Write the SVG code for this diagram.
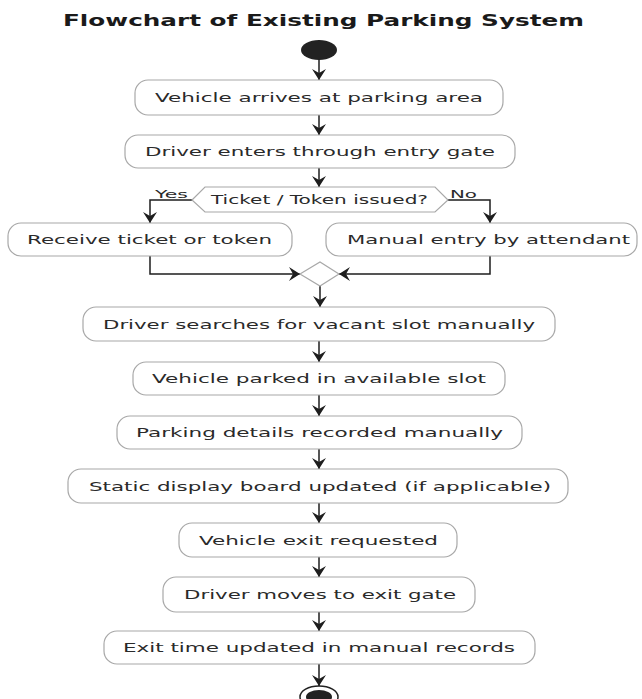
<svg xmlns="http://www.w3.org/2000/svg" width="642" height="699" viewBox="0 0 642 699">
<defs>
<style>
.box{fill:#ffffff;stroke:#a8a8a8;stroke-width:1.2}
.t{font-family:"DejaVu Sans","Liberation Sans",sans-serif;font-size:13px;fill:#2a2a2a}
.lbl{font-family:"DejaVu Sans","Liberation Sans",sans-serif;font-size:11px;fill:#2a2a2a}
.title{font-family:"DejaVu Sans","Liberation Sans",sans-serif;font-size:15px;font-weight:bold;fill:#1a1a1a}
.c{fill:none;stroke:#1e1e1e;stroke-width:1.5}
</style>
<marker id="ah" markerWidth="14" markerHeight="14" refX="11" refY="7" orient="auto" markerUnits="userSpaceOnUse">
<path d="M0,0 L11,7 L0,14 L4,7 Z" fill="#1e1e1e"/>
</marker>
</defs>
<rect width="642" height="699" fill="#ffffff"/>
<text class="title" x="63" y="26" textLength="521" lengthAdjust="spacingAndGlyphs">Flowchart of Existing Parking System</text>

<g id="start"><ellipse cx="319" cy="50" rx="18" ry="10" fill="#222222"/></g>

<g id="connectors">
<path class="c" d="M319,60 V80" marker-end="url(#ah)"/>
<path class="c" d="M319,115 V135" marker-end="url(#ah)"/>
<path class="c" d="M319,168 V187" marker-end="url(#ah)"/>
<path class="c" d="M192,200 H150 V223" marker-end="url(#ah)"/>
<path class="c" d="M448,200 H490 V223" marker-end="url(#ah)"/>
<path class="c" d="M150,256 V274 H300" marker-end="url(#ah)"/>
<path class="c" d="M490,256 V274 H339" marker-end="url(#ah)"/>
<path class="c" d="M320,286 V307" marker-end="url(#ah)"/>
<path class="c" d="M319,341 V362" marker-end="url(#ah)"/>
<path class="c" d="M319,395 V416" marker-end="url(#ah)"/>
<path class="c" d="M319,449 V469" marker-end="url(#ah)"/>
<path class="c" d="M319,503 V523" marker-end="url(#ah)"/>
<path class="c" d="M319,557 V577" marker-end="url(#ah)"/>
<path class="c" d="M319,612 V631" marker-end="url(#ah)"/>
<path class="c" d="M319,664 V686" marker-end="url(#ah)"/>
<text class="lbl" x="155" y="198" textLength="33" lengthAdjust="spacingAndGlyphs">Yes</text>
<text class="lbl" x="450" y="198" textLength="27" lengthAdjust="spacingAndGlyphs">No</text>
</g>

<g id="n1"><rect class="box" x="135" y="80" width="368" height="35" rx="13"/>
<text class="t" x="155" y="102" textLength="328" lengthAdjust="spacingAndGlyphs">Vehicle arrives at parking area</text></g>

<g id="n2"><rect class="box" x="125" y="135" width="390" height="33" rx="13"/>
<text class="t" x="145" y="156" textLength="350" lengthAdjust="spacingAndGlyphs">Driver enters through entry gate</text></g>

<g id="decision"><polygon class="box" points="192,200 205,187 435,187 448,200 435,212 205,212"/>
<text class="t" x="211" y="204" textLength="217" lengthAdjust="spacingAndGlyphs">Ticket / Token issued?</text></g>

<g id="yes"><rect class="box" x="8" y="223" width="284" height="33" rx="13"/>
<text class="t" x="27" y="244" textLength="245" lengthAdjust="spacingAndGlyphs">Receive ticket or token</text></g>

<g id="no"><rect class="box" x="326" y="223" width="311" height="33" rx="13"/>
<text class="t" x="347" y="244" textLength="283" lengthAdjust="spacingAndGlyphs">Manual entry by attendant</text></g>

<g id="merge"><polygon class="box" points="300,274 320,262 339,274 320,286"/></g>

<g id="n3"><rect class="box" x="83" y="307" width="472" height="34" rx="13"/>
<text class="t" x="103" y="329" textLength="432" lengthAdjust="spacingAndGlyphs">Driver searches for vacant slot manually</text></g>

<g id="n4"><rect class="box" x="133" y="362" width="372" height="33" rx="13"/>
<text class="t" x="152" y="383" textLength="334" lengthAdjust="spacingAndGlyphs">Vehicle parked in available slot</text></g>

<g id="n5"><rect class="box" x="117" y="416" width="405" height="33" rx="13"/>
<text class="t" x="136" y="437" textLength="367" lengthAdjust="spacingAndGlyphs">Parking details recorded manually</text></g>

<g id="n6"><rect class="box" x="68" y="469" width="500" height="34" rx="13"/>
<text class="t" x="89" y="491" textLength="462" lengthAdjust="spacingAndGlyphs">Static display board updated (if applicable)</text></g>

<g id="n7"><rect class="box" x="179" y="523" width="278" height="34" rx="13"/>
<text class="t" x="199" y="545" textLength="239" lengthAdjust="spacingAndGlyphs">Vehicle exit requested</text></g>

<g id="n8"><rect class="box" x="163" y="577" width="312" height="35" rx="13"/>
<text class="t" x="184" y="599" textLength="272" lengthAdjust="spacingAndGlyphs">Driver moves to exit gate</text></g>

<g id="n9"><rect class="box" x="104" y="631" width="431" height="33" rx="13"/>
<text class="t" x="123" y="652" textLength="392" lengthAdjust="spacingAndGlyphs">Exit time updated in manual records</text></g>

<g id="end"><ellipse cx="319" cy="697" rx="19" ry="11" fill="#ffffff" stroke="#222222" stroke-width="1.5"/>
<ellipse cx="319" cy="697" rx="13" ry="7" fill="#222222"/></g>
</svg>
